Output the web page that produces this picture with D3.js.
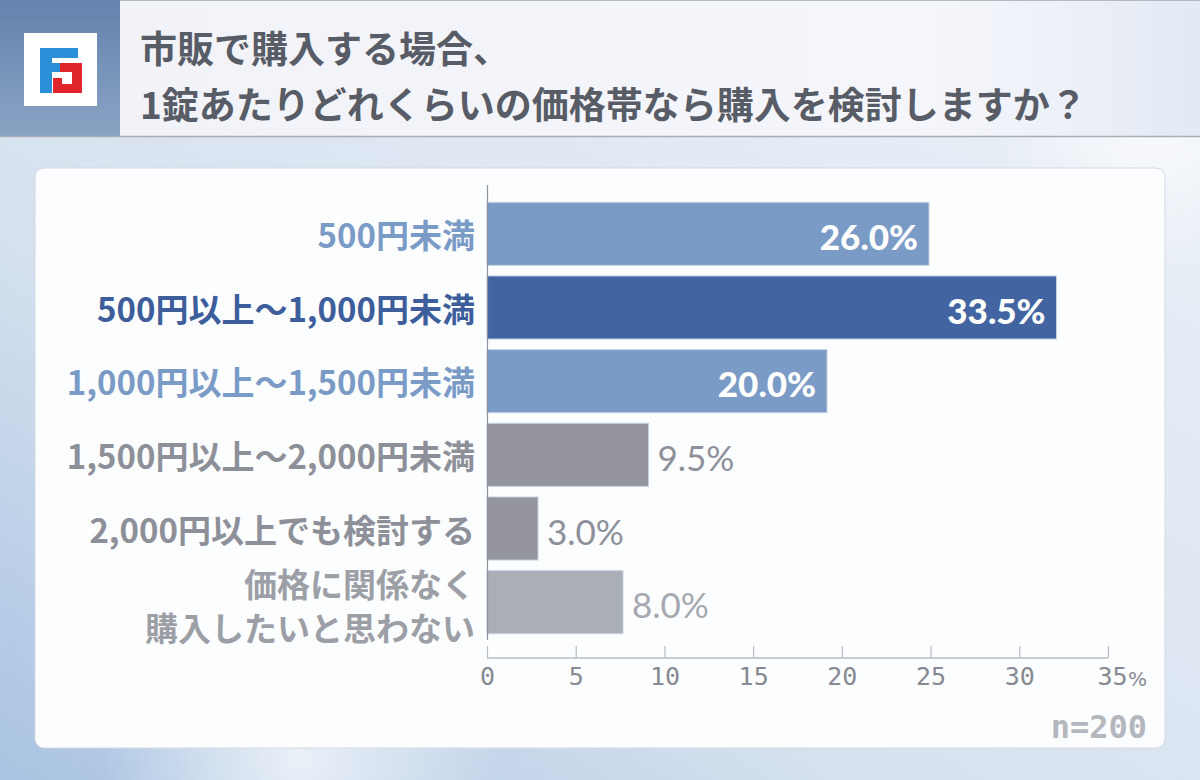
<!DOCTYPE html>
<html>
<head>
<meta charset="utf-8">
<script src="https://cdn.jsdelivr.net/npm/d3@7"></script>
<style>
  body { margin: 0; background: #dfe8f3; }
  svg { display: block; }
</style>
</head>
<body>
<svg id="chart" width="1200" height="780"></svg>
<script>
// data
var titleLines = ["市販で購入する場合、", "1錠あたりどれくらいの価格帯なら購入を検討しますか？"];
var categories = [
    ["500円未満"],
    ["500円以上〜1,000円未満"],
    ["1,000円以上〜1,500円未満"],
    ["1,500円以上〜2,000円未満"],
    ["2,000円以上でも検討する"],
    ["価格に関係なく", "購入したいと思わない"]
];
var values = [26.0, 33.5, 20.0, 9.5, 3.0, 8.0];
var xTicks = [0, 5, 10, 15, 20, 25, 30, 35];
var sampleSize = "n=200";

// styles
var barColors   = ["#7b9bc7", "#4265a2", "#7b9bc7", "#94959e", "#94959e", "#a9aeb7"];
var labelColors = ["#7b9bc7", "#3e5e9b", "#7b9bc7", "#8e9099", "#8e9099", "#9c9fa6"];
var valueColors = ["#ffffff", "#ffffff", "#ffffff", "#8e9099", "#8e9099", "#a5a8af"];
var valueInside = [true, true, true, false, false, false];

var width = 1200, height = 780;
var svg = d3.select("#chart");
var defs = svg.append("defs");

// background
var bg = defs.append("linearGradient").attr("id", "bg")
    .attr("x1", 0).attr("y1", 1).attr("x2", 1).attr("y2", 0);
bg.append("stop").attr("offset", 0).attr("stop-color", "#a9c3e2");
bg.append("stop").attr("offset", 0.35).attr("stop-color", "#d5e1ef");
bg.append("stop").attr("offset", 1).attr("stop-color", "#eef2f8");
svg.append("rect").attr("width", width).attr("height", height).attr("fill", "url(#bg)");

var glow = defs.append("radialGradient").attr("id", "glow");
glow.append("stop").attr("offset", 0).attr("stop-color", "#ffffff").attr("stop-opacity", 0.7);
glow.append("stop").attr("offset", 1).attr("stop-color", "#ffffff").attr("stop-opacity", 0);
svg.append("circle").attr("cx", 1150).attr("cy", 120).attr("r", 160).attr("fill", "url(#glow)");
svg.append("circle").attr("cx", 300).attr("cy", 760).attr("r", 200).attr("fill", "url(#glow)");

// header
var hl = defs.append("linearGradient").attr("id", "hl")
    .attr("x1", 0).attr("y1", 0).attr("x2", 0).attr("y2", 1);
hl.append("stop").attr("offset", 0).attr("stop-color", "#6383ad");
hl.append("stop").attr("offset", 1).attr("stop-color", "#8aa3c4");
svg.append("rect").attr("x", 0).attr("y", 0).attr("width", 120).attr("height", 137).attr("fill", "url(#hl)");

var ht = defs.append("linearGradient").attr("id", "ht")
    .attr("x1", 0).attr("y1", 0).attr("x2", 1).attr("y2", 0);
ht.append("stop").attr("offset", 0).attr("stop-color", "#f1f3f8");
ht.append("stop").attr("offset", 0.75).attr("stop-color", "#f5f6fb");
ht.append("stop").attr("offset", 1).attr("stop-color", "#e3eaf4");
svg.append("rect").attr("x", 120).attr("y", 1).attr("width", 1080).attr("height", 135).attr("fill", "url(#ht)");
svg.append("line").attr("x1", 0).attr("x2", width).attr("y1", 136.5).attr("y2", 136.5)
    .attr("stroke", "#a9adb5").attr("stroke-width", 1.5);
svg.append("line").attr("x1", 120).attr("x2", width).attr("y1", 0.5).attr("y2", 0.5)
    .attr("stroke", "#b5b9c0");

// logo
var logo = svg.append("g").attr("transform", "translate(24,33)");
logo.append("rect").attr("width", 73).attr("height", 73).attr("fill", "#ffffff");
logo.append("path").attr("fill", "#2a8fd6")
    .attr("d", "M16,15 H54 V25 H28 V30 H38 V39 H28 V60 H16 Z");
logo.append("path").attr("fill", "#e0262b")
    .attr("d", "M36,30 H58 V60 H29 V45 H38 V51 H48 V39 H36 Z");

svg.append("g").selectAll("text")
    .data(titleLines)
    .join("text")
    .attr("x", 140)
    .attr("y", function(d, i) { return 47 + i * 56 })
    .attr("dominant-baseline", "central")
    .attr("font-family", "'Noto Sans CJK JP', 'Noto Sans', sans-serif")
    .attr("font-weight", 700)
    .attr("font-size", 37)
    .attr("fill", "#575c66")
    .text(function(d) { return d });

// panel
svg.append("rect")
    .attr("x", 35).attr("y", 168).attr("width", 1130).attr("height", 580)
    .attr("rx", 9)
    .attr("fill", "#fcfdff")
    .attr("stroke", "#d5dae2");

// scales
var x0 = 487;
var x = d3.scaleLinear().domain([0, 35]).range([x0, 1108]);
// bars in the source run a little short of the axis (about 96%)
var xBar = d3.scaleLinear().domain([0, 35]).range([x0, x0 + 595]);
var y = d3.scaleBand()
    .domain(d3.range(values.length))
    .range([197, 639])
    .paddingInner(0.144)
    .paddingOuter(0.072);

// bars
svg.append("g").selectAll("rect")
    .data(values)
    .join("rect")
    .attr("x", xBar(0))
    .attr("y", function(d, i) { return y(i) })
    .attr("width", function(d) { return xBar(d) - xBar(0) })
    .attr("height", y.bandwidth())
    .attr("fill", function(d, i) { return barColors[i] })
    .attr("stroke", "#c7d2e2")
    .attr("stroke-width", 1);

// value labels
svg.append("g").selectAll("text")
    .data(values)
    .join("text")
    .attr("x", function(d, i) { return valueInside[i] ? xBar(d) - 11 : xBar(d) + 9 })
    .attr("y", function(d, i) { return y(i) + y.bandwidth() / 2 + 2 })
    .attr("dominant-baseline", "central")
    .attr("text-anchor", function(d, i) { return valueInside[i] ? "end" : "start" })
    .attr("font-family", "Lato, 'Noto Sans', sans-serif")
    .attr("font-weight", function(d, i) { return valueInside[i] ? 900 : 400 })
    .attr("font-size", 35)
    .attr("fill", function(d, i) { return valueColors[i] })
    .text(function(d) { return d.toFixed(1) + "%" });

// category labels
var cat = svg.append("g").selectAll("text")
    .data(categories)
    .join("text")
    .attr("text-anchor", "end")
    .attr("font-family", "'Noto Sans CJK JP', 'Noto Sans', sans-serif")
    .attr("font-weight", 700)
    .attr("font-size", 33)
    .attr("fill", function(d, i) { return labelColors[i] });

cat.selectAll("tspan")
    .data(function(d, i) {
        return d.map(function(t, j) { return { t: t, j: j, n: d.length, i: i } })
    })
    .join("tspan")
    .attr("x", 475)
    .attr("y", function(d) {
        var off = d.n > 1 ? 3 : 0;
        return y(d.i) + y.bandwidth() / 2 + off + (d.j - (d.n - 1) / 2) * 44
    })
    .attr("dominant-baseline", "central")
    .text(function(d) { return d.t });

// y axis line
svg.append("line")
    .attr("x1", x0 + 0.5).attr("x2", x0 + 0.5)
    .attr("y1", 185).attr("y2", 640)
    .attr("stroke", "#8f939b").attr("stroke-width", 1.2);

// x axis
var axis = svg.append("g")
    .attr("transform", "translate(0,658)")
    .call(d3.axisTop(x).tickValues(xTicks).tickSize(12).tickPadding(0).tickFormat(d3.format("d")));
axis.select(".domain").attr("stroke", "#b8bcc2").attr("stroke-width", 1.5).attr("d", "M" + x(0) + ",0H" + x(35));
axis.selectAll(".tick line").attr("stroke", "#b8bcc2").attr("stroke-width", 1.2);
axis.selectAll(".tick text")
    .attr("y", 18)
    .attr("dy", 0)
    .attr("dominant-baseline", "central")
    .attr("font-family", "'DejaVu Sans Mono', monospace")
    .attr("font-size", 25)
    .attr("fill", "#878a92");
axis.selectAll(".tick").filter(function(d) { return d === 35 })
    .select("text").attr("x", 4);
svg.append("text")
    .attr("x", x(35) + 20)
    .attr("y", 679)
    .attr("dominant-baseline", "central")
    .attr("font-family", "'DejaVu Sans', sans-serif")
    .attr("font-size", 20)
    .attr("fill", "#878a92")
    .text("%");

// sample size
svg.append("text")
    .attr("x", 1147)
    .attr("y", 727)
    .attr("text-anchor", "end")
    .attr("dominant-baseline", "central")
    .attr("font-family", "'DejaVu Sans Mono', monospace")
    .attr("font-weight", 700)
    .attr("font-size", 32)
    .attr("fill", "#b4b7bd")
    .text(sampleSize);
</script>
</body>
</html>
